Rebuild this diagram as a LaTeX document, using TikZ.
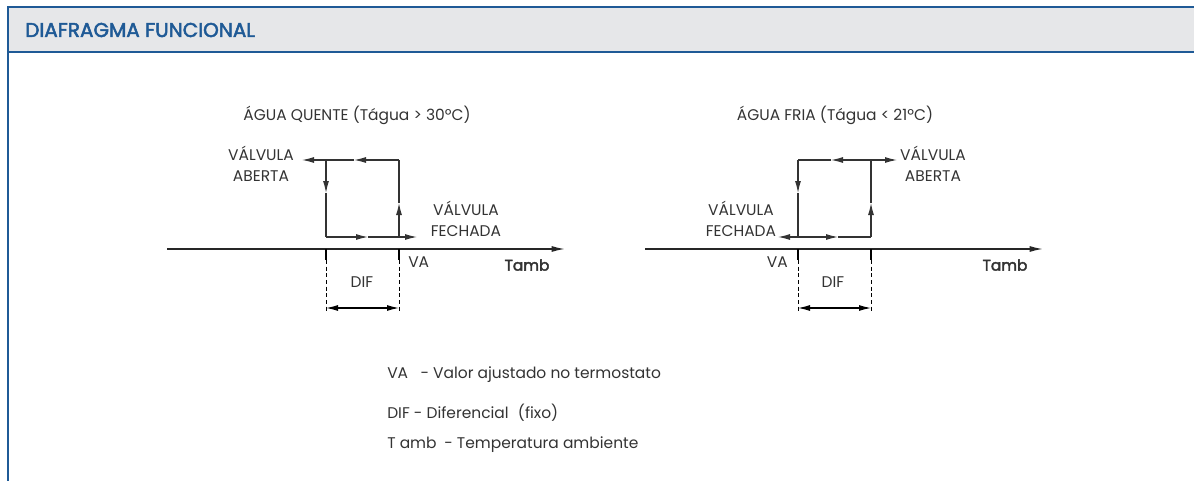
\documentclass[tikz,border=0pt]{standalone}
\usepackage{fontspec}
\setmainfont{Poppins}
\newfontfamily\negrito[FakeBold=2.5]{Poppins}
\usepackage{tikz}
\usetikzlibrary{arrows.meta}

\definecolor{azul}{HTML}{1F5A96}
\definecolor{cinza}{HTML}{E6E7E9}

\begin{document}
\begin{tikzpicture}[x=0.75pt,y=-0.75pt,
    txt/.style={font=\fontsize{11.6}{15.5}\selectfont, text=black!80, inner sep=0pt, align=center},
    linha/.style={line width=0.8pt, draw=black!80},
    seta/.style={linha, -{Latex[length=9pt,width=4.5pt]}},
    eixo/.style={line width=1.1pt, draw=black!85, -{Latex[length=10pt,width=4.5pt]}},
    cota/.style={line width=0.8pt, {Latex[length=9pt,width=4.5pt]}-{Latex[length=9pt,width=4.5pt]}},
    tracejado/.style={line width=0.6pt, dashed, dash pattern=on 3pt off 2pt}]
  \useasboundingbox (0,0) rectangle (1194,481);
  % cabecalho
  \fill[cinza] (8,7) rectangle (1194,52);
  \draw[azul, line width=1.6pt] (1194,7) -- (8,7) -- (8,481);
  \draw[azul, line width=1.6pt] (8,52) -- (1194,52);
  \node (cab) [anchor=west, inner sep=0pt, text=azul, font=\negrito\fontsize{15}{17}\selectfont] at (25,30) {DIAFRAGMA FUNCIONAL};

  % agua quente
  \coordinate (q_bl) at (326,237);
  \coordinate (q_br) at (399,237);
  \coordinate (q_tr) at (399,160);
  \coordinate (q_tl) at (326,160);
  \draw[eixo] (167,249) coordinate (q_e0) -- (565,249) coordinate (q_e1);
  \draw[seta] (q_bl) -- (368,237) coordinate (q_m1);
  \draw[seta] (q_m1) -- (417,237) coordinate (q_fim);
  \draw[seta] (q_br) -- (399,203) coordinate (q_m2);
  \draw[linha] (q_m2) -- (q_tr);
  \draw[seta] (q_tr) -- (354,160) coordinate (q_m3);
  \draw[seta] (q_m3) -- (302,160) coordinate (q_ini);
  \draw[seta] (q_tl) -- (326,193) coordinate (q_m4);
  \draw[linha] (q_m4) -- (q_bl);
  \draw[line width=0.8pt] (326,249) -- (326,260) coordinate (q_d1);
  \draw[line width=2pt] (399,249) -- (399,260) coordinate (q_d2);
  \draw[tracejado] (q_d1) -- (326,312);
  \draw[tracejado] (q_d2) -- (399,312);
  \draw[cota] (326,308) coordinate (q_c1) -- (399,308) coordinate (q_c2);
  \node (q_tit) [txt] at (357,115) {ÁGUA QUENTE (Tágua > 30ºC)};
  \node (q_ab) [txt] at (261,164) {VÁLVULA\\ABERTA};
  \node (q_fe) [txt] at (466,219) {VÁLVULA\\FECHADA};
  \node (q_va) [txt, anchor=west] at (408,262) {VA};
  \node (q_dif) [txt] at (362,282) {DIF};
  \node (q_t) [txt, font=\negrito\fontsize{11.5}{13}\selectfont] at (527,265) {Tamb};

  % agua fria
  \coordinate (f_bl) at (798,237);
  \coordinate (f_br) at (871,237);
  \coordinate (f_tr) at (871,160);
  \coordinate (f_tl) at (798,160);
  \draw[eixo] (645,249) coordinate (f_e0) -- (1043,249) coordinate (f_e1);
  \draw[seta] (f_bl) -- (838,237) coordinate (f_m1);
  \draw[linha] (f_m1) -- (f_br);
  \draw[seta] (f_bl) -- (778,237) coordinate (f_ini);
  \draw[seta] (f_br) -- (871,203) coordinate (f_m2);
  \draw[linha] (f_m2) -- (f_tr);
  \draw[seta] (f_tr) -- (831,160) coordinate (f_m3);
  \draw[linha] (f_m3) -- (f_tl);
  \draw[seta] (f_tr) -- (897,160) coordinate (f_fim);
  \draw[seta] (f_tl) -- (798,193) coordinate (f_m4);
  \draw[linha] (f_m4) -- (f_bl);
  \draw[line width=2pt] (798,249) -- (798,260) coordinate (f_d1);
  \draw[line width=0.8pt] (871,249) -- (871,260) coordinate (f_d2);
  \draw[tracejado] (f_d1) -- (798,312);
  \draw[tracejado] (f_d2) -- (871,312);
  \draw[cota] (798,308) coordinate (f_c1) -- (871,308) coordinate (f_c2);
  \node (f_tit) [txt] at (835,115) {ÁGUA FRIA (Tágua < 21ºC)};
  \node (f_ab) [txt] at (933,164) {VÁLVULA\\ABERTA};
  \node (f_fe) [txt] at (741,219) {VÁLVULA\\FECHADA};
  \node (f_va) [txt, anchor=east] at (788,262) {VA};
  \node (f_dif) [txt] at (833,282) {DIF};
  \node (f_t) [txt, font=\negrito\fontsize{11.5}{13}\selectfont] at (1005,265) {Tamb};

  % legenda
  \node (leg1) [txt, anchor=west] at (387,375) {VA\hspace{0.8em}- Valor ajustado no termostato};
  \node (leg2) [txt, anchor=west] at (387,413) {DIF - Diferencial\hspace{0.6em}(fixo)};
  \node (leg3) [txt, anchor=west] at (387,445) {T amb\hspace{0.5em}- Temperatura ambiente};
\end{tikzpicture}
\end{document}
